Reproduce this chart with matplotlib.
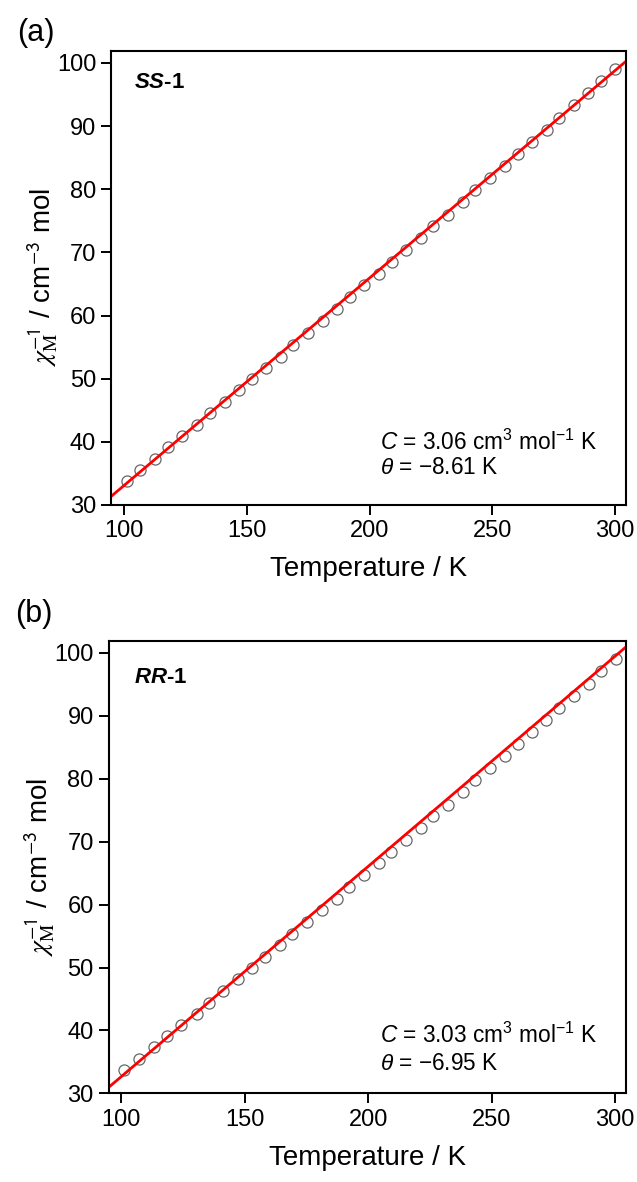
import matplotlib
matplotlib.use("Agg")
import matplotlib.pyplot as plt

plt.rcParams['font.family'] = ['Liberation Sans', 'DejaVu Sans']
plt.rcParams['mathtext.fontset'] = 'custom'
plt.rcParams['mathtext.rm'] = 'Liberation Sans'
plt.rcParams['mathtext.it'] = 'Liberation Sans:italic'
plt.rcParams['mathtext.bf'] = 'Liberation Sans:bold:italic'

# data
T_ss = [101.2, 106.6, 112.8, 118.0, 123.9, 130.0, 135.2, 141.0, 146.8, 152.0, 157.7, 163.9,
        168.9, 175.0, 181.0, 186.9, 192.0, 197.9, 204.0, 209.0, 215.0, 220.9, 226.0, 231.9,
        237.9, 243.1, 249.0, 255.0, 260.3, 266.1, 272.1, 277.0, 283.1, 289.1, 294.1, 300.0]
inv_chi_ss = [33.8, 35.6, 37.3, 39.1, 40.9, 42.7, 44.5, 46.3, 48.2, 50.0, 51.7, 53.5,
              55.4, 57.3, 59.1, 61.0, 62.9, 64.8, 66.6, 68.5, 70.3, 72.2, 74.1, 75.9,
              77.9, 79.8, 81.7, 83.6, 85.6, 87.5, 89.4, 91.3, 93.3, 95.2, 97.2, 99.1]

T_rr = [100.9, 107.2, 113.4, 118.3, 124.0, 130.5, 135.4, 141.3, 147.2, 153.1, 158.3, 164.3,
        169.3, 175.1, 181.1, 187.3, 192.3, 198.4, 204.2, 209.2, 215.3, 221.4, 226.4, 232.2,
        238.3, 243.3, 249.3, 255.2, 260.5, 266.3, 272.1, 277.1, 283.2, 289.2, 294.3, 300.2]
inv_chi_rr = [33.7, 35.4, 37.3, 39.1, 40.9, 42.6, 44.4, 46.3, 48.2, 50.0, 51.7, 53.6,
              55.4, 57.2, 59.1, 60.9, 62.8, 64.7, 66.6, 68.4, 70.3, 72.2, 74.1, 75.9,
              77.9, 79.8, 81.7, 83.6, 85.5, 87.4, 89.3, 91.2, 93.1, 95.1, 97.1, 99.0]

# Curie-Weiss fit lines (end points)
fit_T = [95, 304.5]
fit_ss = [31.4, 100.3]
fit_rr = [31.0, 101.0]

xticks = [100, 150, 200, 250, 300]
yticks = [30, 40, 50, 60, 70, 80, 90, 100]

fig = plt.figure(figsize=(6.37, 11.82), dpi=100)
ax1 = fig.add_axes([0.175, 0.5728, 0.8082, 0.3841])
ax2 = fig.add_axes([0.1711, 0.0750, 0.8121, 0.3827])

panels = [
    (ax1, T_ss, inv_chi_ss, fit_ss, "SS", "3.06", "8.61", 0.0437, 0.9185, 0.5215, 0.122, 0.068),
    (ax2, T_rr, inv_chi_rr, fit_rr, "RR", "3.03", "6.95", 0.048, 0.908, 0.523, 0.1105, 0.0515),
]

for ax, T, y, fit, name, C, theta, nx, ny, ax_x, y1, y2 in panels:
    ax.plot(T, y, 'o', ms=8, mfc='none', mec='#666666', mew=0.9)
    ax.plot(fit_T, fit, color='#ff0000', lw=2.0)
    ax.set_xlim(95, 304.5)
    ax.set_ylim(30, 101.9)
    ax.set_xticks(xticks)
    ax.set_yticks(yticks)
    ax.tick_params(direction='out', length=7, width=1.4, labelsize=17, pad=4)
    for s in ax.spines.values():
        s.set_linewidth(1.5)
    ax.set_xlabel("Temperature / K", fontsize=20, labelpad=10)
    ax.set_ylabel(r"$\chi_{\mathrm{M}}^{\mathsf{-1}}$ / cm$^{\mathsf{-3}}$ mol", fontsize=20,
                  labelpad=-2, math_fontfamily='stix')
    ax.text(nx, ny, r"$\mathbf{%s}$" % name + "-1", transform=ax.transAxes,
            fontsize=16, fontweight='bold', ha='left', va='baseline')
    ax.text(ax_x, y1, r"$C$ = %s cm$^3$ mol$^{-1}$ K" % C, transform=ax.transAxes,
            fontsize=16.3, ha='left', va='baseline')
    ax.text(ax_x, y2, r"$\theta$ = −%s K" % theta, transform=ax.transAxes,
            fontsize=16.3, ha='left', va='baseline')

fig.text(0.027, 0.985, "(a)", fontsize=22, ha='left', va='top')
fig.text(0.024, 0.4935, "(b)", fontsize=22, ha='left', va='top')

fig.savefig("out.png", dpi=100)
